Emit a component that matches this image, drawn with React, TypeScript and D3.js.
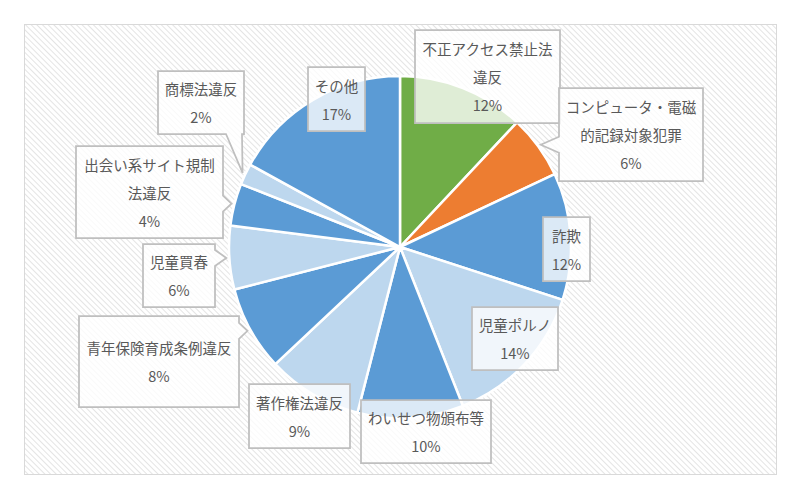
import React from "react";
import * as d3 from "d3";

const categories = [
  "不正アクセス禁止法\n違反",
  "コンピュータ・電磁\n的記録対象犯罪",
  "詐欺",
  "児童ポルノ",
  "わいせつ物頒布等",
  "著作権法違反",
  "青年保険育成条例違反",
  "児童買春",
  "出会い系サイト規制\n法違反",
  "商標法違反",
  "その他",
];
const values = [12, 6, 12, 14, 10, 9, 8, 6, 4, 2, 17];
const percentLabels = ["12%", "6%", "12%", "14%", "10%", "9%", "8%", "6%", "4%", "2%", "17%"];
const sliceColors = [
  "#70AD47", "#ED7D31", "#5B9BD5", "#BDD7EE", "#5B9BD5", "#BDD7EE",
  "#5B9BD5", "#BDD7EE", "#5B9BD5", "#BDD7EE", "#5B9BD5",
];

// label box layout: [x, y, w, h, pointerSide]
const labelLayout: [number, number, number, number, string][] = [
  [415, 30, 145, 93, ""],
  [559, 88, 144, 93, "left"],
  [543, 217, 47, 64, ""],
  [472, 307, 86, 63, ""],
  [361, 400, 130, 63, ""],
  [249, 384, 101, 64, ""],
  [79, 316, 160, 91, "right"],
  [143, 244, 72, 63, "right"],
  [76, 146, 147, 92, "right"],
  [158, 71, 86, 63, "bottom"],
  [308, 67, 57, 64, ""],
];

const W = 800, H = 500;
const cx = 400, cy = 247, R = 171;

function calloutPath(x: number, y: number, w: number, h: number, side: string, tx: number, ty: number) {
  const hw = 8;
  const clamp = (v: number, a: number, b: number) => Math.max(a, Math.min(b, v));
  if (side === "left") {
    const c = clamp(ty, y + hw + 2, y + h - hw - 2);
    return `M${x},${y}H${x + w}V${y + h}H${x}V${c + hw}L${tx},${ty}L${x},${c - hw}Z`;
  }
  if (side === "right") {
    const c = clamp(ty, y + hw + 2, y + h - hw - 2);
    return `M${x},${y}H${x + w}V${c - hw}L${tx},${ty}L${x + w},${c + hw}V${y + h}H${x}Z`;
  }
  if (side === "bottom") {
    const c = clamp(tx, x + hw + 2, x + w - hw - 2);
    return `M${x},${y}H${x + w}V${y + h}H${c + hw}L${tx},${ty}L${c - hw},${y + h}H${x}Z`;
  }
  return `M${x},${y}H${x + w}V${y + h}H${x}Z`;
}

export default function App() {
  const pie = d3.pie<number>().sort(null).value((d) => d);
  const arcs = pie(values);
  const arc = d3.arc<d3.PieArcDatum<number>>().innerRadius(0).outerRadius(R);
  const tipArc = d3.arc<d3.PieArcDatum<number>>().innerRadius(R + 3).outerRadius(R + 3);
  const font = "'Noto Sans CJK JP', 'Noto Sans', sans-serif";

  return (
    <svg width={W} height={H} style={{ position: "absolute", left: 0, top: 0, background: "#fff" }}>
      <defs>
        <pattern id="hatch" width="4" height="4" patternUnits="userSpaceOnUse" patternTransform="rotate(-45)">
          <rect width="4" height="4" fill="#ffffff" />
          <line x1="0" y1="0" x2="0" y2="4" stroke="#e4e4e4" strokeWidth="2" />
        </pattern>
      </defs>
      <rect x={24.5} y={24.5} width={752} height={450} fill="url(#hatch)" stroke="#d9d9d9" strokeWidth={1} />
      <g transform={`translate(${cx},${cy})`}>
        {arcs.map((a, i) => (
          <path key={i} d={arc(a) || ""} fill={sliceColors[i]} stroke="#fff" strokeWidth={2.5} strokeLinejoin="round" />
        ))}
      </g>
      {arcs.map((a, i) => {
        const [x, y, w, h, side] = labelLayout[i];
        const [tx0, ty0] = tipArc.centroid(a);
        const tx = tx0 + cx, ty = ty0 + cy;
        const lines = categories[i].split("\n").concat([percentLabels[i]]);
        const mid = y + h / 2;
        const step = 28;
        const start = mid - ((lines.length - 1) * step) / 2;
        return (
          <g key={"l" + i}>
            <path d={calloutPath(x, y, w, h, side, tx, ty)} fill="rgba(255,255,255,0.78)" stroke="#bfbfbf" strokeWidth={1.75} strokeLinejoin="miter" />
            {lines.map((t, j) => (
              <text key={j} x={x + w / 2} y={start + j * step} textAnchor="middle" dominantBaseline="central"
                fontFamily={font} fontSize={14.5} fill="#595959">{t}</text>
            ))}
          </g>
        );
      })}
    </svg>
  );
}
